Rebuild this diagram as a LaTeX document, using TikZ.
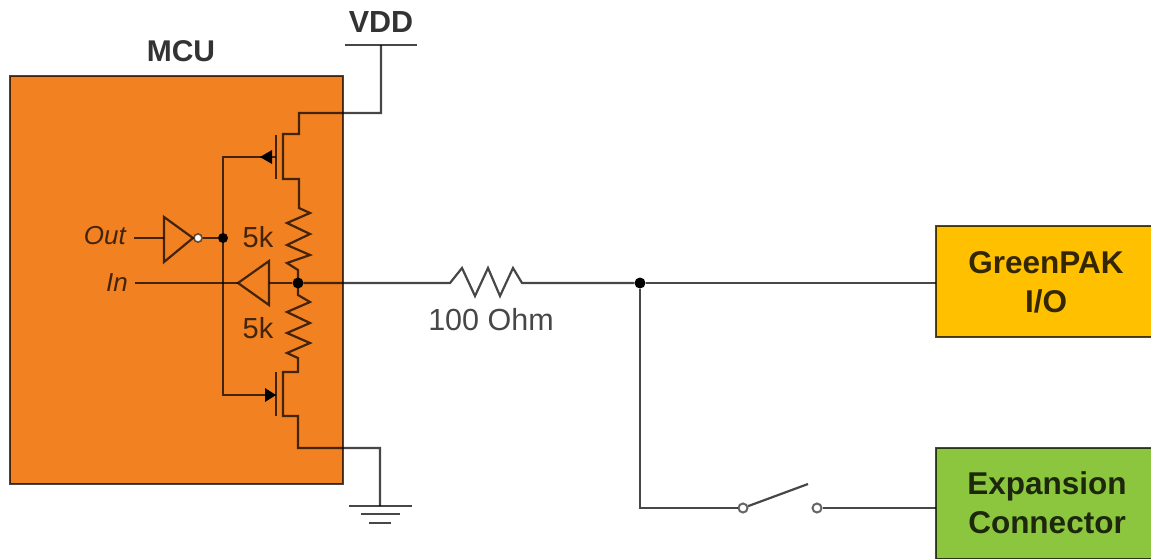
\documentclass[tikz,border=0pt]{standalone}
\usepackage{fontspec}
\setmainfont{Liberation Sans}
\definecolor{mcuorange}{HTML}{F28122}
\definecolor{gpyellow}{HTML}{FFC000}
\definecolor{exgreen}{HTML}{8CC63F}
\tikzset{
  wire/.style={draw=black,draw opacity=.72,line width=2.2pt,line join=miter},
  thin wire/.style={wire,line width=2pt},
  block/.style={draw=black,draw opacity=.72,line width=1.8pt,anchor=north west,inner sep=0pt,outer sep=0pt},
  title/.style={font=\fontsize{31.5}{39}\selectfont\bfseries,text=black,text opacity=.8,inner sep=0pt,align=center},
  lab/.style={font=\fontsize{29}{32}\selectfont,text=black,text opacity=.72,inner sep=0pt},
  sig/.style={font=\fontsize{26}{30}\selectfont\itshape,text=black,text opacity=.72,inner sep=0pt},
  dot/.style={circle,fill=black,inner sep=0pt,minimum size=11pt},
  bubble/.style={circle,draw=black,draw opacity=.6,fill=white,line width=1.6pt,inner sep=0pt,minimum size=8pt},
  term/.style={circle,draw=black,draw opacity=.6,fill=white,line width=2pt,inner sep=0pt,minimum size=9pt},
}
\begin{document}
\begin{tikzpicture}[x=1pt,y=-1pt]
\useasboundingbox (0,0) rectangle (1151,558);
% blocks
\node[block,fill=mcuorange,minimum width=333pt,minimum height=408pt] (mcu) at (10,76) {};
\node[block,fill=gpyellow,minimum width=216pt,minimum height=111pt] (gp) at (936,226) {};
\node[block,fill=exgreen,minimum width=216pt,minimum height=111pt] (ex) at (936,448) {};
\node[title] (gpt) at (1046,282) {GreenPAK\\I/O};
\node[title] (ext) at (1047,503) {Expansion\\Connector};
\node[title,font=\fontsize{30}{34}\selectfont\bfseries] (mcut) at (181,51) {MCU};
\node[title,font=\fontsize{30.5}{34}\selectfont\bfseries] (vddt) at (381,22) {VDD};
% coordinates
\coordinate (vdd) at (381,45);
\coordinate (vl) at (345,45);
\coordinate (vr) at (417,45);
\coordinate (gnd) at (380,506);
\coordinate (pd) at (283,134);
\coordinate (ps) at (283,179);
\coordinate (nd) at (283,372);
\coordinate (ns) at (283,416);
\coordinate (pg) at (276,157);
\coordinate (ng) at (276,395);
\coordinate (pgt) at (276,135);
\coordinate (pgb) at (276,179);
\coordinate (ngt) at (276,372);
\coordinate (ngb) at (276,416);
\node[dot,minimum size=10pt] (gj) at (223,238) {};
\node[dot] (mid) at (298,283) {};
\node[dot] (jn) at (640,283) {};
\coordinate (outs) at (134,238);
\coordinate (ins) at (135,283);
\coordinate (invb) at (164,238);
\coordinate (invt) at (193,238);
\node[bubble] (bub) at (198,238) {};
\coordinate (buft) at (238,283);
\coordinate (bufb) at (269,283);
\node[term] (s1) at (743,508) {};
\node[term] (s2) at (817,508) {};
\coordinate (lever) at (808,484);
% supply and output stage
\draw[thin wire] (vl) -- (vr);
\draw[wire] (vdd) |- (299,113) -- (299,134) -- (pd) -- (ps) -- (299,179) -- (299,208)
  -- (310,213) -- (287,223) -- (310,234) -- (287,245) -- (310,255) -- (287,263) -- (298,270) -- (mid.center);
\draw[wire] (mid.center) -- (298,295) -- (310,302) -- (287,312) -- (310,323) -- (287,333) -- (310,343) -- (287,353)
  -- (298,358) -- (298,372) -- (nd) -- (ns) -- (298,416) -- (298,448) -- (380,448) -- (gnd);
\draw[wire] (pgt) -- (pgb);
\draw[wire] (ngt) -- (ngb);
% gate wiring
\draw[wire] (pg) -- (223,157) -- (223,395) -- (ng);
\fill[black] (260,157) -- (272,150) -- (272,164) -- cycle;
\fill[black] (276,395) -- (265,388) -- (265,402) -- cycle;
% ground
\draw[thin wire] (349,506) -- (412,506);
\draw[thin wire] (361,514) -- (400,514);
\draw[thin wire] (369,523) -- (391,523);
% inverter and input buffer
\draw[wire] (outs) -- (invb);
\draw[wire] (164,217) -- (164,262) -- (invt) -- cycle;
\draw[wire] (bub) -- (gj);
\draw[wire] (ins) -- (buft);
\draw[wire] (buft) -- (bufb |- 261,261) -- (bufb |- 305,305) -- cycle;
\draw[wire] (bufb) -- (mid);
% series resistor, bus
\draw[wire] (mid) -- (450,283) -- (462,268) -- (475,296) -- (488,268) -- (500,296) -- (513,268) -- (522,283) -- (jn);
\draw[wire] (jn) -- (gp.west |- jn);
\draw[wire] (jn) |- (s1);
\draw[wire] (s1) -- (lever);
\draw[wire] (s2) -- (ex.west |- s2);
% labels
\node[sig,anchor=east] (outl) at (126,236) {Out};
\node[sig,anchor=east] (inl) at (128,283) {In};
\node[lab] (r1l) at (258,237) {5k};
\node[lab] (r2l) at (258,328) {5k};
\node[lab,font=\fontsize{30.5}{34}\selectfont] (rl) at (491,320) {100 Ohm};
\end{tikzpicture}
\end{document}
